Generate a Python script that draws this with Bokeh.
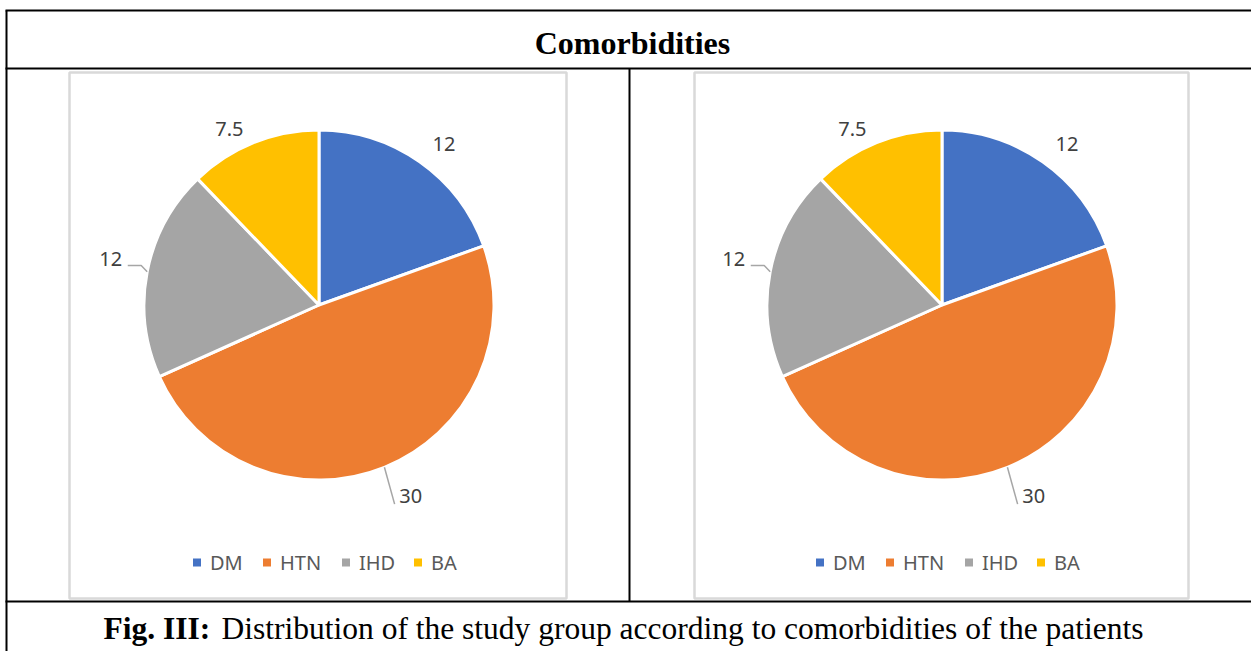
import numpy as np
from bokeh.plotting import figure
from bokeh.models import Range1d
from bokeh.core.properties import value
from bokeh.embed import file_html
from bokeh.resources import INLINE

# ---- data -------------------------------------------------------------
categories = ["DM", "HTN", "IHD", "BA"]
counts = [12, 30, 12, 7.5]
count_labels = ["12", "30", "12", "7.5"]
slice_colors = ["#4472C4", "#ED7D31", "#A5A5A5", "#FFC000"]

title_text = "Comorbidities"
caption_bold = "Fig. III:"
caption_rest = "Distribution of the study group according to comorbidities of the patients"

# ---- page geometry (pixels, measured from the top-left corner) -------
W, H = 1251, 651
PIE_R = 175
PIE_CENTERS = [(318.5, 304.5), (941.5, 304.5)]
BOX_SPANS = [(69, 566), (694, 1188)]
BOX_TOP, BOX_BOTTOM = 72, 598
LEGEND_Y = 562
LEGEND_DX = [-122, -52, 27, 99]          # square centres relative to pie centre
LABEL_GAP = 30                            # label distance beyond the rim
LABEL_NUDGE = [(7, 7), (15, 1), (-7, -7), (-13, 14)]
LEADER = [False, True, True, False]

LABEL_FONT = value("Noto Sans")
SERIF = value("Liberation Serif")


def Y(py):
    """Convert a top-down pixel row to the plot's y coordinate."""
    return H - py


p = figure(width=W, height=H, x_range=Range1d(0, W), y_range=Range1d(0, H),
           output_backend="svg", toolbar_location=None,
           x_axis_location=None, y_axis_location=None, min_border=0)
p.grid.visible = False
p.outline_line_color = None
p.background_fill_color = "white"
p.border_fill_color = "white"

# ---- table frame ------------------------------------------------------
p.segment(x0=[5, 5, 5, 6, 629], y0=[Y(10), Y(68), Y(601), Y(10), Y(68)],
          x1=[W, W, W, 6, 629], y1=[Y(10), Y(68), Y(601), Y(H), Y(601)],
          line_color="black", line_width=2)

p.text(x=[632], y=[Y(42)], text=[title_text], text_font=SERIF,
       text_font_style="bold", text_font_size="32px", text_color="black",
       text_align="center", text_baseline="alphabetic")

p.text(x=[103], y=[Y(628)], text=[caption_bold], text_font=SERIF,
       text_font_style="bold", text_font_size="31.5px", text_color="black",
       text_align="left", text_baseline="alphabetic")
p.text(x=[221], y=[Y(628)], text=[caption_rest], text_font=SERIF,
       text_font_size="31.5px", text_color="black",
       text_align="left", text_baseline="alphabetic")

# ---- slice angles (clockwise from 12 o'clock) --------------------------
vals = np.asarray(counts, dtype=float)
sweep = vals / vals.sum() * 2 * np.pi
end_angles = np.pi / 2 - np.cumsum(sweep)
start_angles = end_angles + sweep
mid_angles = start_angles - sweep / 2

for (cx, cy), (bx0, bx1) in zip(PIE_CENTERS, BOX_SPANS):
    # chart area border
    p.quad(left=[bx0], right=[bx1], top=[Y(BOX_TOP)], bottom=[Y(BOX_BOTTOM)],
           fill_color=None, line_color="#D9D9D9", line_width=2.5)

    p.wedge(x=cx, y=Y(cy), radius=PIE_R, start_angle=list(start_angles),
            end_angle=list(end_angles), direction="clock",
            fill_color=slice_colors, line_color="white", line_width=3)

    lx, ly, ex, ey = [], [], [], []
    for i, a in enumerate(mid_angles):
        rx = cx + (PIE_R + LABEL_GAP) * np.cos(a) + LABEL_NUDGE[i][0]
        ry = cy - (PIE_R + LABEL_GAP) * np.sin(a) + LABEL_NUDGE[i][1]
        lx.append(rx)
        ly.append(ry)
        ex.append(cx + PIE_R * np.cos(a))
        ey.append(cy - PIE_R * np.sin(a))

    # leader lines for the labels that sit away from their slice
    for i in range(len(categories)):
        if not LEADER[i]:
            continue
        if ex[i] < cx:
            xs = [ex[i], ex[i] - 6, lx[i] + 17]
            ys = [ey[i], ly[i] + 6.5, ly[i] + 6.5]
        else:
            xs = [ex[i], lx[i] - 16]
            ys = [ey[i], ly[i] + 8]
        p.line(x=xs, y=[Y(v) for v in ys], line_color="#A6A6A6", line_width=1.5)

    p.text(x=lx, y=[Y(v) for v in ly], text=count_labels, text_font=LABEL_FONT,
           text_font_size="20px", text_color="#404040",
           text_align="center", text_baseline="middle")

    # legend
    sq_x = [cx + d for d in LEGEND_DX]
    p.scatter(x=sq_x, y=[Y(LEGEND_Y)] * len(categories), marker="square",
              size=8, fill_color=slice_colors, line_color=None)
    p.text(x=[x + 13 for x in sq_x], y=[Y(LEGEND_Y)] * len(categories),
           text=categories, text_font=LABEL_FONT, text_font_size="20px",
           text_color="#595959", text_align="left", text_baseline="middle")

open("out.html", "w").write(file_html(p, INLINE))
